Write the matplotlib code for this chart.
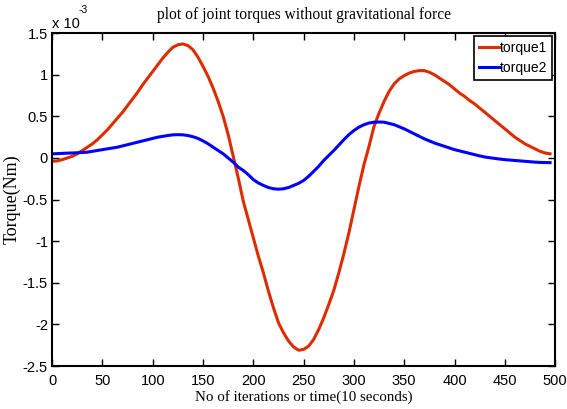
import matplotlib.pyplot as plt
import numpy as np
from matplotlib.ticker import FuncFormatter

# iteration index, every 5 samples (0 .. 495)
iters = np.arange(0, 500, 5)

# torques in units of 1e-3 Nm
torque1 = [-0.04, -0.035, -0.02, 0.0, 0.02, 0.05, 0.09, 0.13, 0.17, 0.22,
           0.28, 0.34, 0.41, 0.48, 0.55, 0.63, 0.71, 0.79, 0.88, 0.96,
           1.04, 1.12, 1.20, 1.27, 1.33, 1.36, 1.37, 1.35, 1.30, 1.21,
           1.10, 0.98, 0.84, 0.68, 0.50, 0.28, 0.02, -0.24, -0.52, -0.74,
           -0.96, -1.18, -1.38, -1.60, -1.80, -1.98, -2.10, -2.20, -2.27, -2.31,
           -2.30, -2.26, -2.18, -2.06, -1.92, -1.76, -1.59, -1.38, -1.15, -0.90,
           -0.62, -0.34, -0.08, 0.14, 0.38, 0.54, 0.68, 0.80, 0.89, 0.95,
           0.99, 1.02, 1.04, 1.05, 1.05, 1.03, 1.00, 0.96, 0.92, 0.88,
           0.83, 0.78, 0.74, 0.69, 0.65, 0.60, 0.55, 0.50, 0.45, 0.40,
           0.35, 0.30, 0.25, 0.21, 0.17, 0.14, 0.11, 0.08, 0.06, 0.05]
torque2 = [0.05, 0.052, 0.055, 0.058, 0.06, 0.063, 0.066, 0.07, 0.08, 0.09,
           0.10, 0.11, 0.12, 0.13, 0.145, 0.16, 0.175, 0.19, 0.205, 0.22,
           0.235, 0.25, 0.26, 0.27, 0.278, 0.28, 0.278, 0.27, 0.255, 0.235,
           0.205, 0.17, 0.13, 0.09, 0.05, 0.0, -0.05, -0.11, -0.15, -0.20,
           -0.26, -0.30, -0.33, -0.355, -0.37, -0.375, -0.37, -0.355, -0.33, -0.305,
           -0.27, -0.22, -0.16, -0.10, -0.03, 0.03, 0.09, 0.155, 0.22, 0.28,
           0.33, 0.37, 0.40, 0.42, 0.43, 0.432, 0.43, 0.415, 0.40, 0.375,
           0.35, 0.32, 0.29, 0.26, 0.23, 0.205, 0.18, 0.16, 0.14, 0.12,
           0.10, 0.085, 0.07, 0.055, 0.04, 0.025, 0.012, 0.003, -0.005, -0.013,
           -0.02, -0.025, -0.03, -0.035, -0.04, -0.045, -0.05, -0.053, -0.055, -0.056]

xticks = np.arange(0, 501, 50)
yticks = np.arange(-2.5, 1.51, 0.5)

fig = plt.figure(figsize=(5.67, 4.09), dpi=100)
ax = fig.add_axes([0.092, 0.105, 0.887, 0.814])

ax.plot(iters, torque1, color='#dd2c00', lw=2.2, label='torque1')
ax.plot(iters, torque2, color='#0000ff', lw=2.2, label='torque2')

ax.set_xlim(0, 500)
ax.set_ylim(-2.5, 1.5)
ax.set_xticks(xticks)
ax.set_yticks(yticks)
ax.yaxis.set_major_formatter(FuncFormatter(lambda v, p: '%g' % v))
ax.tick_params(direction='in', top=True, right=True, length=5, width=1,
               labelsize=10.5)
ax.tick_params(axis='x', pad=5.5)
ax.tick_params(axis='y', pad=3)
for lab in ax.get_xticklabels() + ax.get_yticklabels():
    lab.set_family('Liberation Sans')
for s in ax.spines.values():
    s.set_linewidth(1.5)

ax.text(0.0, 1.53, 'x 10', transform=ax.transData, fontsize=10.5,
        family='Liberation Sans', ha='left', va='bottom')
ax.text(26, 1.72, '-3', transform=ax.transData, fontsize=7.5,
        family='Liberation Sans', ha='left', va='bottom')

ax.set_title('plot of joint torques without gravitational force',
             family='Liberation Serif', fontsize=11.2, pad=10)
ax.set_xlabel('No of iterations or time(10 seconds)', family='Liberation Serif',
              fontsize=10.8, labelpad=2)
ax.set_ylabel('Torque(Nm)', family='Liberation Serif', fontsize=13)
ax.yaxis.set_label_coords(-0.062, 0.5)

leg = ax.legend(loc='upper right', fancybox=False, edgecolor='black',
                framealpha=1, borderaxespad=0.2, handlelength=1.4,
                handletextpad=0.1, borderpad=0.35, labelspacing=0.45,
                prop={'family': 'Liberation Sans', 'size': 10})
leg.get_frame().set_linewidth(1.2)

fig.savefig('out.png', dpi=100)
